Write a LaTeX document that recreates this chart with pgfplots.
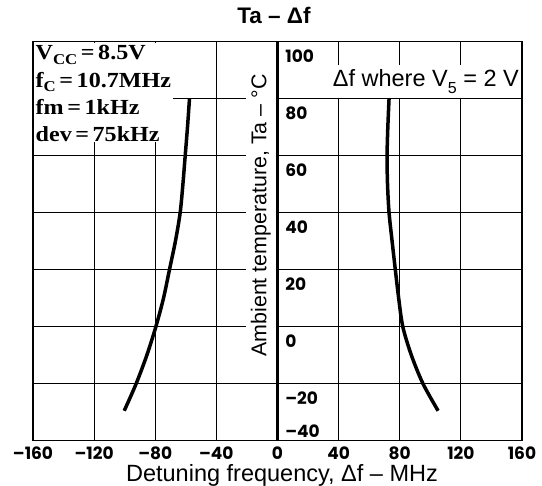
\documentclass[border=0pt]{standalone}
\usepackage{pgfplots}
\pgfplotsset{compat=1.18}
\usepackage{fontspec}
\setmainfont{Liberation Sans}
\newfontfamily\tickfont{Poppins}
\newfontfamily\boxfont{Liberation Serif}[FakeStretch=1.12]
\newcommand\sub[1]{\raisebox{-0.22em}{\fontsize{15}{15}\selectfont #1}}

\begin{document}
\begin{tikzpicture}
\path[use as bounding box] (-33pt,-45.3pt) rectangle (509pt,440.7pt);
\begin{axis}[
    scale only axis,
    width=489pt, height=399pt,
    xmin=-160, xmax=160,
    ymin=-40, ymax=100,
    xtick={-160,-120,...,160},
    xticklabels={–160,–120,–80,–40,0,40,80,120,160},
    ytick={-20,0,...,100},
    yticklabels={–20,0,20,40,60,80,100},
    extra y ticks={-40},
    extra y tick labels={–40},
    extra y tick style={
        every y tick label/.style={anchor=south west, inner sep=0pt,
            xshift=252.2pt, yshift=3pt,
            font=\tickfont\bfseries\fontsize{17}{17}\selectfont}},
    major tick length=0pt,
    grid=major,
    major grid style={black, line width=1.1pt},
    axis line style={line width=1.6pt},
    tick label style={font=\tickfont\bfseries\fontsize{17}{17}\selectfont},
    xticklabel style={anchor=north, inner sep=0pt, yshift=-5.5pt},
    yticklabel style={anchor=north west, inner sep=0pt, xshift=252.2pt, yshift=-7.5pt},
    title={Ta – Δf},
    title style={font=\bfseries\fontsize{22.5}{26}\selectfont,
        at={(axis description cs:0.5,1)}, anchor=base, yshift=12.4pt, xshift=-3.5pt},
    xlabel={Detuning frequency, Δf – MHz},
    xlabel style={font=\fontsize{23.5}{28}\selectfont,
        at={(axis description cs:0.5,0)}, anchor=base, yshift=-41.3pt, xshift=4.5pt},
    ylabel={Ambient temperature, Ta – °C},
    ylabel style={font=\fontsize{21.4}{25}\selectfont,
        at={(axis description cs:0.497,0.5643)}, anchor=south,
        fill=white, inner sep=5pt},
]
% thick zero line
\addplot[black, line width=3pt] coordinates {(0,-40) (0,100)};
% left branch
\addplot[black, line width=3.5pt, smooth] coordinates {
    (-57.6,80) (-58.9,70) (-60.4,60) (-61.9,50) (-63.7,40) (-66.8,30)
    (-70.7,20) (-74.6,10) (-79.6,0) (-85.5,-10) (-92.5,-20) (-100.3,-29.5)};
% right branch
\addplot[black, line width=3.5pt, smooth] coordinates {
    (73.0,80) (72.2,70) (71.7,60) (72.0,50) (73.0,40) (75.0,30)
    (77.1,20) (79.3,10) (82.0,0) (87.6,-10) (95.2,-20) (105.1,-29.5)};

\node[anchor=north west, fill=white, inner xsep=1.5pt, inner ysep=0pt,
      align=left, font=\boxfont\bfseries\fontsize{21.5}{27.3}\selectfont,
      xshift=1pt, yshift=-1pt]
    at (axis cs:-160,100)
    {\rule{0pt}{17pt}V\sub{CC}\,=\,8.5V\\
     f\sub{C}\,=\,10.7MHz\\
     fm\,=\,1kHz\\
     dev\,=\,75kHz};
\node[anchor=south east, fill=white, inner xsep=2pt, inner ysep=0pt,
      text height=22pt, text depth=11pt, font=\fontsize{23.5}{27}\selectfont,
      xshift=-1pt, yshift=0.6pt]
    at (axis cs:160,80)
    {Δf where V\raisebox{-0.3em}{\fontsize{16}{16}\selectfont 5} = 2 V};
\end{axis}
\end{tikzpicture}
\end{document}
